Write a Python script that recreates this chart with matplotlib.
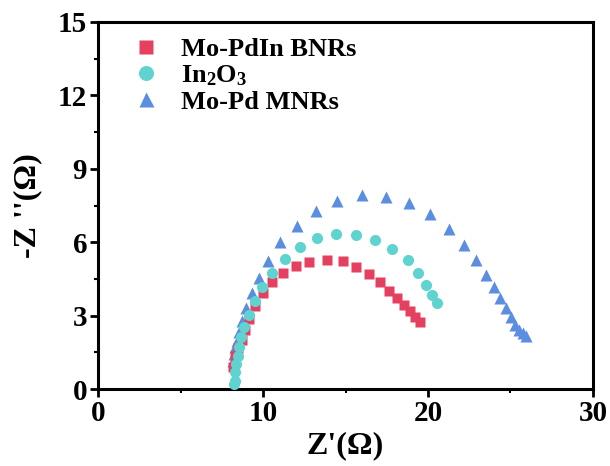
import numpy as np
import matplotlib
matplotlib.use('Agg')
import matplotlib.pyplot as plt
from matplotlib.ticker import MultipleLocator

# Nyquist data
bnr_x = [8.15, 8.32, 8.47, 8.72, 8.93, 9.17, 9.51, 9.98, 10.55, 11.23, 12.0, 12.81,
         13.86, 14.83, 15.65, 16.41, 17.06, 17.63, 18.14, 18.52, 18.88, 19.19, 19.49]
bnr_y = [0.92, 1.36, 1.69, 2.01, 2.42, 2.87, 3.38, 3.93, 4.39, 4.74, 5.01, 5.2,
         5.29, 5.22, 5.0, 4.7, 4.36, 4.02, 3.71, 3.44, 3.18, 2.94, 2.73]

ino_x = [8.26, 8.28, 8.32, 8.36, 8.46, 8.56, 8.66, 8.86, 9.13, 9.49, 9.94, 10.55,
         11.31, 12.25, 13.28, 14.43, 15.65, 16.76, 17.83, 18.78, 19.39, 19.85, 20.22, 20.52]
ino_y = [0.22, 0.35, 0.69, 1.03, 1.37, 1.71, 2.11, 2.52, 3.03, 3.58, 4.16, 4.74,
         5.31, 5.79, 6.16, 6.33, 6.31, 6.09, 5.73, 5.27, 4.76, 4.25, 3.84, 3.5]

mnr_x = [8.2, 8.26, 8.32, 8.4, 8.56, 8.72, 8.97, 9.31, 9.73, 10.29, 11.03, 12.04,
         13.18, 14.47, 16.01, 17.44, 18.85, 20.14, 21.27, 22.16, 22.89, 23.5, 23.98,
         24.39, 24.71, 25.01, 25.26, 25.5, 25.73, 25.97]
mnr_y = [1.16, 1.45, 1.71, 1.98, 2.35, 2.8, 3.31, 3.91, 4.54, 5.24, 5.99, 6.67,
         7.29, 7.69, 7.93, 7.86, 7.59, 7.15, 6.54, 5.89, 5.27, 4.66, 4.16,
         3.71, 3.3, 2.93, 2.63, 2.42, 2.28, 2.18]

plt.rcParams['font.family'] = ['Liberation Serif', 'DejaVu Serif']
plt.rcParams['font.weight'] = 'bold'
plt.rcParams['mathtext.fontset'] = 'custom'
plt.rcParams['mathtext.rm'] = 'Liberation Serif:bold'
plt.rcParams['mathtext.bf'] = 'Liberation Serif:bold'
plt.rcParams['mathtext.default'] = 'bf'

fig = plt.figure(figsize=(6.1, 4.66), dpi=100)
ax = fig.add_axes([0.161, 0.165, 0.811, 0.788])

ax.plot(mnr_x, mnr_y, '^', color='#5b8de0', ms=8, mec='none', label='Mo-Pd MNRs', zorder=2)
ax.plot(bnr_x, bnr_y, 's', color='#e5405f', ms=7, mec='none', label='Mo-PdIn BNRs', zorder=3)
ax.plot(ino_x, ino_y, 'o', color='#5ed3cf', ms=8, mec='none', label='In$_2$O$_3$', zorder=4)

ax.set_xlim(0, 30)
ax.set_ylim(0, 15)
ax.xaxis.set_major_locator(MultipleLocator(10))
ax.xaxis.set_minor_locator(MultipleLocator(5))
ax.yaxis.set_major_locator(MultipleLocator(3))
ax.yaxis.set_minor_locator(MultipleLocator(1.5))
ax.tick_params(which='major', direction='out', length=6, width=2, labelsize=21, pad=2)
ax.tick_params(which='minor', direction='out', length=3, width=1.5)
for s in ax.spines.values():
    s.set_linewidth(2.2)

ax.set_xlabel("Z'(Ω)", fontsize=23, fontweight='bold', labelpad=3)
ax.set_ylabel("-Z ''(Ω)", fontsize=23, fontweight='bold', labelpad=11)

h, l = ax.get_legend_handles_labels()
order = [1, 2, 0]
ax.legend([h[i] for i in order], [l[i] for i in order], loc='upper left',
          bbox_to_anchor=(0.025, 1.0), frameon=False,
          prop={'size': 19, 'weight': 'bold'}, handletextpad=0.55, labelspacing=0.08,
          borderaxespad=0.2, borderpad=0.4, handlelength=1.5, markerscale=1.35)

fig.savefig('out.png', dpi=100)
